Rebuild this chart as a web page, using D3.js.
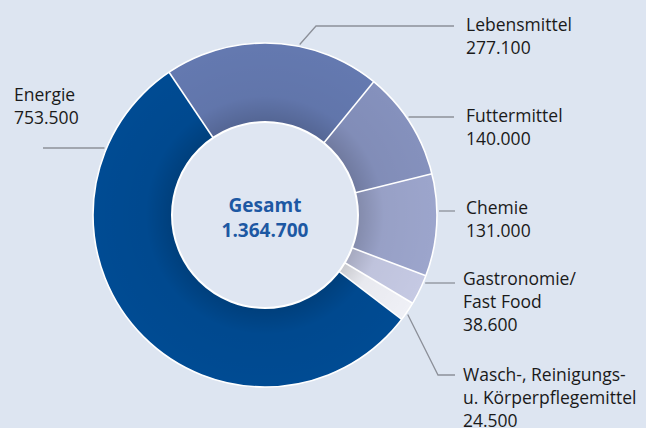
<!DOCTYPE html>
<html>
<head>
<meta charset="utf-8">
<script src="https://cdn.jsdelivr.net/npm/d3@7"></script>
<style>
  html, body { margin: 0; padding: 0; background: #dde5f1; }
  svg { display: block; }
  text { font-family: "Open Sans", Lato, sans-serif; }
</style>
</head>
<body>
<div id="chart-area"></div>
<script>
// Data
var categories = ['Lebensmittel', 'Futtermittel', 'Chemie', 'Gastronomie/ Fast Food',
                  'Wasch-, Reinigungs- u. Körperpflegemittel', 'Energie'];
var values = [277100, 140000, 131000, 38600, 24500, 753500];
var labelLines = [
  ['Lebensmittel', '277.100'],
  ['Futtermittel', '140.000'],
  ['Chemie', '131.000'],
  ['Gastronomie/', 'Fast Food', '38.600'],
  ['Wasch-, Reinigungs-', 'u. Körperpflegemittel', '24.500'],
  ['Energie', '753.500']
];
var totalLabel = ['Gesamt', '1.364.700'];

// Styles / layout
var colors = ['#6479b0', '#8591bd', '#9ca5cc', '#c5c9e3', '#eff0f6', '#004b93'];
var width = 646, height = 428;
var cx = 265, cy = 215;
var outerR = 172, innerR = 93;
var startDeg = -33.9;

// label layout: text x, first baseline, leader y, leader end x, elbow x (null = straight), start angle
var labelPos = [
  { x: 466, y: 30.5, ly: 26,  lx: 454, elbow: 316, ang: 11.5 },
  { x: 466, y: 122,  ly: 117, lx: 454, elbow: null, ang: 55.6 },
  { x: 466, y: 214,  ly: 211, lx: 455, elbow: null, ang: 88.7 },
  { x: 463, y: 285,  ly: 283, lx: 455, elbow: null, ang: 113 },
  { x: 463, y: 381,  ly: 375, lx: 455, elbow: 438, ang: 124.9 },
  { x: 14,  y: 101,  ly: 148, lx: 43,  elbow: null, ang: 292.7 }
];
var lineH = 23;

var svg = d3.select('#chart-area')
  .append('svg')
    .attr('width', width)
    .attr('height', height);

svg.append('rect')
  .attr('width', width)
  .attr('height', height)
  .attr('fill', '#dde5f1');

// soft shadow near the hole
var defs = svg.append('defs');
var shade = defs.append('radialGradient')
  .attr('id', 'shade')
  .attr('gradientUnits', 'userSpaceOnUse')
  .attr('cx', 0).attr('cy', 0).attr('r', outerR);
shade.append('stop').attr('offset', innerR / outerR).attr('stop-color', '#000').attr('stop-opacity', 0.16);
shade.append('stop').attr('offset', (innerR + 26) / outerR).attr('stop-color', '#000').attr('stop-opacity', 0.03);
shade.append('stop').attr('offset', 1).attr('stop-color', '#000').attr('stop-opacity', 0);

var pie = d3.pie()
  .sort(null)
  .value(function(d) { return d; })
  .startAngle(startDeg * Math.PI / 180)
  .endAngle((startDeg + 360) * Math.PI / 180);

var arc = d3.arc()
  .innerRadius(innerR - 5)
  .outerRadius(outerR);

var g = svg.append('g')
  .attr('transform', 'translate(' + cx + ',' + cy + ')');

var arcs = pie(values);

g.selectAll('path.slice')
  .data(arcs)
  .enter()
  .append('path')
    .attr('class', 'slice')
    .attr('d', arc)
    .attr('fill', function(d, i) { return colors[i]; });

g.append('path')
  .attr('d', d3.arc().innerRadius(innerR).outerRadius(outerR - 1)({ startAngle: 0, endAngle: 2 * Math.PI }))
  .attr('fill', 'url(#shade)');

// separators
g.selectAll('line.sep')
  .data(arcs)
  .enter()
  .append('line')
    .attr('class', 'sep')
    .attr('x1', function(d) { return innerR * Math.sin(d.startAngle); })
    .attr('y1', function(d) { return -innerR * Math.cos(d.startAngle); })
    .attr('x2', function(d) { return outerR * Math.sin(d.startAngle); })
    .attr('y2', function(d) { return -outerR * Math.cos(d.startAngle); })
    .attr('stroke', '#fff')
    .attr('stroke-width', 1.6);

// outer white edge
g.append('circle')
  .attr('r', outerR)
  .attr('fill', 'none')
  .attr('stroke', '#fff')
  .attr('stroke-width', 1.6);

// center hole
g.append('circle')
  .attr('r', innerR)
  .attr('fill', '#dfe6f2')
  .attr('stroke', '#fff')
  .attr('stroke-width', 2);

g.selectAll('text.total')
  .data(totalLabel)
  .enter()
  .append('text')
    .attr('class', 'total')
    .attr('x', 0)
    .attr('y', function(d, i) { return -3.5 + i * 25; })
    .attr('text-anchor', 'middle')
    .attr('font-size', '19px')
    .attr('font-weight', 'bold')
    .attr('fill', '#1d58a3')
    .text(function(d) { return d; });

// Leader lines
var leader = d3.line();
svg.append('g')
  .selectAll('path')
  .data(labelPos)
  .enter()
  .append('path')
    .attr('d', function(p) {
      var a = p.ang * Math.PI / 180, r = outerR + 2;
      var sx = cx + r * Math.sin(a), sy = cy - r * Math.cos(a);
      var pts = [[sx, sy]];
      if (p.elbow !== null) pts.push([p.elbow, p.ly]);
      else pts[0][1] = p.ly;
      pts.push([p.lx, p.ly]);
      return leader(pts);
    })
    .attr('fill', 'none')
    .attr('stroke', '#8c9099')
    .attr('stroke-width', 1.3);

// Labels
var labels = svg.append('g')
  .selectAll('text')
  .data(labelLines)
  .enter()
  .append('text')
    .attr('x', function(d, i) { return labelPos[i].x; })
    .attr('y', function(d, i) { return labelPos[i].y; })
    .attr('font-size', '17.5px')
    .attr('fill', '#1a1a1a');

labels.selectAll('tspan')
  .data(function(d, i) { return d.map(function(t) { return { t: t, i: i }; }); })
  .enter()
  .append('tspan')
    .attr('x', function(d) { return labelPos[d.i].x; })
    .attr('dy', function(d, j) { return j === 0 ? 0 : lineH; })
    .text(function(d) { return d.t; });
</script>
</body>
</html>
